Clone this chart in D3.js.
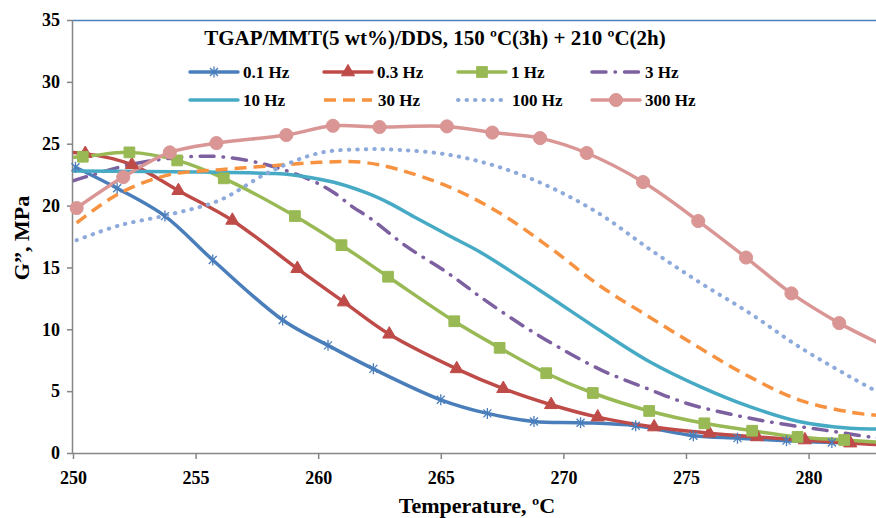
<!DOCTYPE html>
<html>
<head>
<meta charset="utf-8">
<script src="https://cdn.jsdelivr.net/npm/d3@7"></script>
<style>
  body { margin: 0; background: #fff; }
  svg text { font-family: "Liberation Serif", "Times New Roman", serif; font-weight: bold; fill: #000; }
</style>
</head>
<body>
<svg id="chart"></svg>
<script>
// G'' vs temperature, one pair of arrays per frequency
const freqLabels = ['0.1 Hz', '0.3 Hz', '1 Hz', '3 Hz', '10 Hz', '30 Hz', '100 Hz', '300 Hz'];

const temps01 = [250.1, 251.8, 253.75, 255.7, 258.55, 260.4, 262.25, 265.0, 266.9, 268.8, 270.7, 272.95, 275.3, 277.1, 279.1, 280.95, 282.9];
const g01     = [23.1, 21.4, 19.15, 15.6, 10.75, 8.7, 6.8, 4.3, 3.2, 2.55, 2.45, 2.2, 1.4, 1.2, 1.0, 0.85, 0.8];

const temps03 = [248.6, 250.5, 252.4, 254.3, 256.5, 259.15, 261.05, 262.9, 265.65, 267.55, 269.5, 271.4, 273.7, 275.95, 277.9, 279.85, 281.7, 283.6];
const g03     = [24.3, 24.2, 23.3, 21.2, 18.8, 14.9, 12.2, 9.6, 6.8, 5.2, 3.9, 2.9, 2.1, 1.6, 1.3, 1.05, 0.8, 0.6];

const temps1 = [248.5, 250.4, 252.3, 254.25, 256.15, 259.05, 260.95, 262.85, 265.55, 267.4, 269.3, 271.2, 273.5, 275.75, 277.7, 279.55, 281.45, 283.4];
const g1     = [23.8, 23.95, 24.3, 23.65, 22.2, 19.15, 16.8, 14.25, 10.65, 8.5, 6.45, 4.85, 3.4, 2.4, 1.8, 1.3, 1.05, 0.8];

const temps3 = [250, 252.3, 254.4, 256, 257.9, 259.65, 260.6, 261.4, 262.1, 263.6, 265.25, 266.7, 268.3, 269.85, 271.55, 273.3, 275.05, 276.9, 278.75, 280.65, 282.5, 283.5];
const g3     = [22.0, 23.3, 23.9, 23.95, 23.3, 22.1, 21.1, 19.9, 19.0, 16.7, 14.6, 12.5, 10.35, 8.5, 6.7, 5.3, 4.0, 3.1, 2.4, 1.85, 1.3, 1.1];

const temps10 = [250, 253, 256, 258, 258.9, 260.6, 262.0, 262.9, 264.0, 265.4, 266.6, 269.0, 271.5, 273.5, 275.6, 277.6, 279.6, 281.7, 282.75];
const g10     = [22.8, 22.75, 22.7, 22.6, 22.5, 21.9, 21.0, 20.2, 19.0, 17.5, 16.25, 13.2, 9.9, 7.4, 5.35, 3.75, 2.55, 2.0, 1.95];

const temps30 = [250.15, 251.9, 253.95, 256, 258, 260.05, 261.8, 263.3, 265.35, 267.4, 269.45, 271.5, 273.5, 275.55, 277.6, 279.6, 281.7, 282.75];
const g30     = [18.6, 21.0, 22.5, 22.9, 23.2, 23.5, 23.5, 22.9, 21.5, 19.4, 16.6, 13.5, 11.0, 8.5, 6.15, 4.3, 3.3, 3.05];

const temps100 = [250.15, 251.9, 254, 256, 258, 260.05, 261.8, 263.3, 265.35, 267.4, 269.45, 271.5, 273.5, 275.55, 277.6, 279.6, 281.7, 282.75];
const g100     = [17.2, 18.4, 19.3, 20.45, 22.7, 24.25, 24.55, 24.5, 24.1, 23.1, 21.5, 19.3, 16.5, 13.8, 11.3, 8.6, 6.15, 5.0];

const temps300 = [250.15, 252.05, 253.95, 255.85, 258.7, 260.6, 262.5, 265.25, 267.1, 269.05, 270.95, 273.25, 275.5, 277.45, 279.3, 281.25, 283.1];
const g300     = [19.8, 22.3, 24.3, 25.05, 25.7, 26.45, 26.35, 26.4, 25.9, 25.45, 24.25, 21.9, 18.75, 15.8, 12.9, 10.5, 8.65];

const xTicks = [250, 255, 260, 265, 270, 275, 280];
const yTicks = [0, 5, 10, 15, 20, 25, 30, 35];

const chartTitle = 'TGAP/MMT(5 wt%)/DDS, 150 ºC(3h) + 210 ºC(2h)';

// style table for the series (Excel 2007 palette)
const seriesStyle = [
  {color: '#4A7EBB', dash: null, marker: 'star'},
  {color: '#BE4B48', dash: null, marker: 'triangle'},
  {color: '#98B954', dash: null, marker: 'square'},
  {color: '#7D60A0', dash: '14 9 0.5 9', marker: null},
  {color: '#46AAC5', dash: null, marker: null},
  {color: '#F69240', dash: '12 7', marker: null, cap: 'butt'},
  {color: '#8EAADB', dash: '0.5 8', marker: null},
  {color: '#D99694', dash: null, marker: 'circle'}
];

const allTemps = [temps01, temps03, temps1, temps3, temps10, temps30, temps100, temps300];
const allG = [g01, g03, g1, g3, g10, g30, g100, g300];

const series = freqLabels.map((name, i) => ({
  name: name,
  points: allTemps[i].map((t, j) => ({t: t, g: allG[i][j]})),
  ...seriesStyle[i]
}));

class ModulusChart {

  constructor(_config, _data) {
    this.config = {
      parentElement: _config.parentElement,
      containerWidth: _config.containerWidth || 876,
      containerHeight: _config.containerHeight || 518,
      margin: _config.margin || {top: 20, right: 0, bottom: 65, left: 73}
    };
    this.data = _data;
    this.initVis();
  }

  initVis() {
    let vis = this;

    vis.width = vis.config.containerWidth - vis.config.margin.left - vis.config.margin.right;
    vis.height = vis.config.containerHeight - vis.config.margin.top - vis.config.margin.bottom;

    vis.xScale = d3.scaleLinear()
      .domain([250, 282.75])
      .range([0, vis.width]);

    vis.yScale = d3.scaleLinear()
      .domain([0, 35])
      .range([vis.height, 0]);

    vis.xAxis = d3.axisBottom(vis.xScale)
      .tickValues(xTicks)
      .tickSize(6)
      .tickPadding(12)
      .tickFormat(d3.format('d'));

    vis.yAxis = d3.axisLeft(vis.yScale)
      .tickValues(yTicks)
      .tickSize(6)
      .tickPadding(7)
      .tickFormat(d3.format('d'));

    vis.svg = d3.select(vis.config.parentElement)
      .attr('width', vis.config.containerWidth)
      .attr('height', vis.config.containerHeight);

    vis.svg.append('defs').append('clipPath')
      .attr('id', 'plot-clip')
      .append('rect')
      .attr('width', vis.width)
      .attr('height', vis.height);

    vis.chart = vis.svg.append('g')
      .attr('transform', `translate(${vis.config.margin.left},${vis.config.margin.top})`);

    // blue top border of the plot area
    vis.chart.append('line')
      .attr('x1', 0)
      .attr('x2', vis.width)
      .attr('y1', 0.5)
      .attr('y2', 0.5)
      .attr('stroke', '#4F81BD')
      .attr('stroke-width', 1.5);

    vis.xAxisG = vis.chart.append('g')
      .attr('class', 'axis x-axis')
      .attr('transform', `translate(0,${vis.height})`);

    vis.yAxisG = vis.chart.append('g')
      .attr('class', 'axis y-axis');

    vis.linesG = vis.chart.append('g')
      .attr('clip-path', 'url(#plot-clip)');
    vis.markersG = vis.chart.append('g');

    // titles
    vis.svg.append('text')
      .attr('x', 435)
      .attr('y', 45)
      .attr('text-anchor', 'middle')
      .style('font-size', '21px')
      .text(chartTitle);

    vis.svg.append('text')
      .attr('x', 477)
      .attr('y', 513)
      .attr('text-anchor', 'middle')
      .style('font-size', '22px')
      .text('Temperature, ºC');

    vis.svg.append('text')
      .attr('transform', 'translate(29,238) rotate(-90)')
      .attr('text-anchor', 'middle')
      .style('font-size', '22px')
      .text('G\u201D, MPa');

    vis.line = d3.line()
      .x(d => vis.xScale(d.t))
      .y(d => vis.yScale(d.g))
      .curve(d3.curveCatmullRom);

    vis.renderVis();
  }

  markerPath(type) {
    if (type === 'star') return 'M-4,-4L4,4M-4,4L4,-4M0,-5.5L0,5.5';
    if (type === 'triangle') return d3.symbol(d3.symbolTriangle, 75)();
    if (type === 'square') return d3.symbol(d3.symbolSquare, 115)();
    if (type === 'circle') return d3.symbol(d3.symbolCircle, 135)();
    return null;
  }

  drawMarker(sel, s) {
    let vis = this;
    sel.append('path')
      .attr('d', vis.markerPath(s.marker))
      .attr('fill', s.marker === 'star' ? 'none' : s.color)
      .attr('stroke', s.color)
      .attr('stroke-width', s.marker === 'star' ? 1.3 : 1);
  }

  renderVis() {
    let vis = this;

    vis.linesG.selectAll('.series-line')
      .data(vis.data)
      .join('path')
      .attr('class', 'series-line')
      .attr('d', d => vis.line(d.points))
      .attr('fill', 'none')
      .attr('stroke', d => d.color)
      .attr('stroke-width', d => d.dash === '0.5 8' ? 4 : 3.5)
      .attr('stroke-linecap', d => d.cap || 'round')
      .attr('stroke-linejoin', 'round')
      .attr('stroke-dasharray', d => d.dash);

    const [x0, x1] = vis.xScale.domain();
    vis.data.filter(s => s.marker).forEach(s => {
      vis.markersG.append('g')
        .selectAll('g')
        .data(s.points.filter(p => p.t >= x0 && p.t <= x1))
        .join('g')
        .attr('transform', p => `translate(${vis.xScale(p.t)},${vis.yScale(p.g)})`)
        .each(function() { vis.drawMarker(d3.select(this), s); });
    });

    // legend, 4 columns x 2 rows
    const legend = vis.svg.append('g');
    vis.data.forEach((s, i) => {
      const col = i % 4, row = Math.floor(i / 4);
      const lx = 190 + col * 134, ly = 72 + row * 28;
      const item = legend.append('g').attr('transform', `translate(${lx},${ly})`);
      item.append('line')
        .attr('x1', 0).attr('x2', 48)
        .attr('y1', 0).attr('y2', 0)
        .attr('stroke', s.color)
        .attr('stroke-width', s.dash === '0.5 8' ? 4 : 3.5)
        .attr('stroke-linecap', s.cap || 'round')
        .attr('stroke-dasharray', s.dash);
      if (s.marker) {
        const m = item.append('g').attr('transform', 'translate(24,0)');
        vis.drawMarker(m, s);
      }
      item.append('text')
        .attr('x', s.name.startsWith('30 ') || s.name.startsWith('100') ? 54 : 53)
        .attr('y', 6)
        .style('font-size', '17px')
        .text(s.name);
    });

    vis.xAxisG.call(vis.xAxis);
    vis.yAxisG.call(vis.yAxis);

    vis.chart.selectAll('.axis path, .axis line')
      .attr('stroke', '#868686')
      .attr('stroke-width', 1.5);
    vis.xAxisG.select('.domain').attr('d', `M0,0.5H${vis.width}`);
    vis.yAxisG.select('.domain').attr('d', `M-0.5,${vis.height}V0`);
    vis.chart.selectAll('.axis text')
      .style('font-size', '18px')
      .style('font-family', '"Liberation Serif", "Times New Roman", serif')
      .style('font-weight', 'bold')
      .attr('fill', '#000');
  }
}

new ModulusChart({parentElement: '#chart'}, series);
</script>
</body>
</html>
